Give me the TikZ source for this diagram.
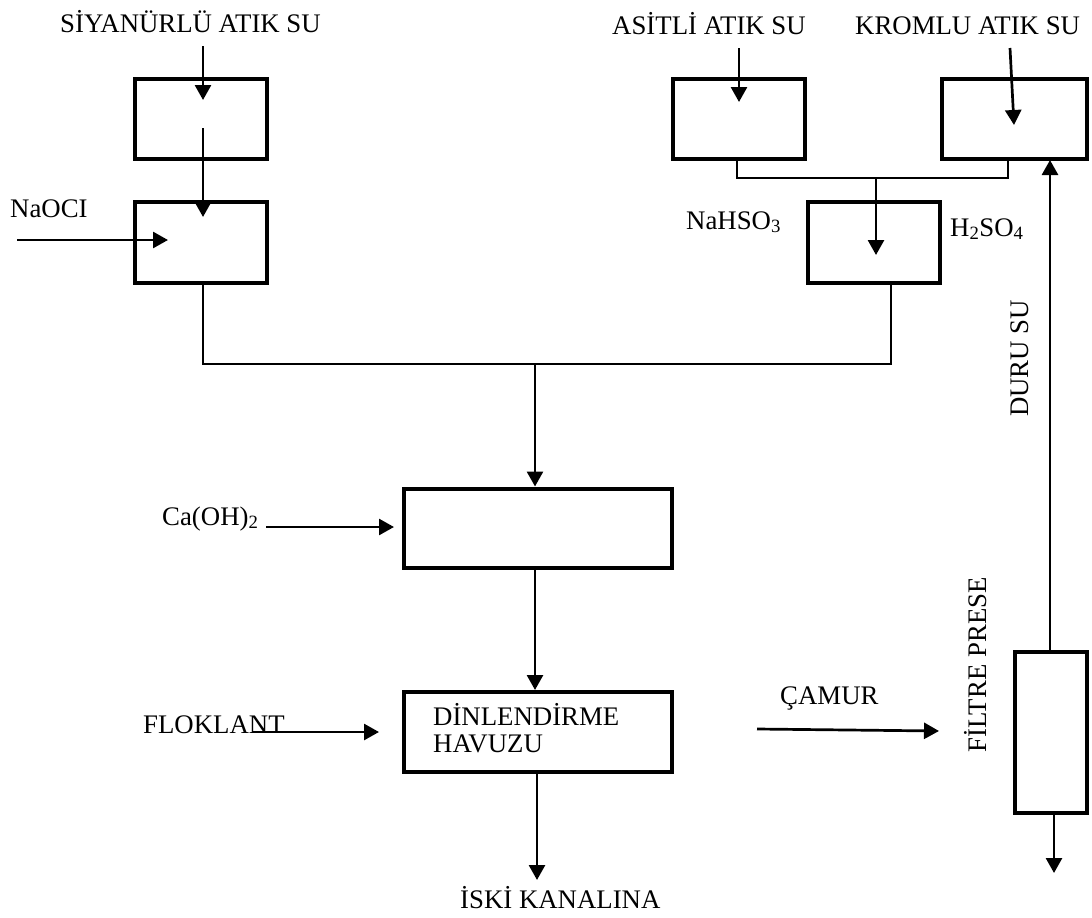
\documentclass[tikz,border=0pt]{standalone}
\usepackage{fontspec}
\setmainfont{Liberation Serif}
\usetikzlibrary{arrows.meta}
\begin{document}
\begin{tikzpicture}[x=1pt,y=-1pt,
  box/.style={draw,line width=4pt,inner sep=0pt},
  lbl/.style={font=\fontsize{26.8}{30}\selectfont,inner sep=0pt,anchor=base west},
  arr/.style={-{Triangle[length=15pt,width=16pt]},line width=2.7pt},
  ln/.style={line width=2pt}]
\useasboundingbox (0,0) rectangle (1092,918);
% boxes
\node[box,minimum width=132pt,minimum height=80pt] (A) at (201,119) {};
\node[box,minimum width=132pt,minimum height=81pt] (B) at (201,242) {};
\node[box,minimum width=132pt,minimum height=80pt] (D) at (738.5,119) {};
\node[box,minimum width=145pt,minimum height=80pt] (E) at (1014,119) {};
\node[box,minimum width=132pt,minimum height=81pt] (F) at (873.5,242) {};
\node[box,minimum width=268pt,minimum height=79pt] (C) at (537.5,528) {};
\node[box,minimum width=268pt,minimum height=80pt] (G) at (537.5,732) {};
\node[box,minimum width=72pt,minimum height=161pt] (H) at (1050.5,732) {};
% labels
\node[lbl] (tsiy) at (60,32) {SİYANÜRLÜ ATIK SU};
\node[lbl] (tasit) at (612,34) {ASİTLİ ATIK SU};
\node[lbl] (tkrom) at (855,34) {KROMLU ATIK SU};
\node[lbl] (tnaocl) at (10,217) {NaOCI};
\node[lbl] (tnahso) at (686,229) {NaHSO\textsubscript{3}};
\node[lbl] (th2so) at (950,236) {H\textsubscript{2}SO\textsubscript{4}};
\node[lbl] (tcaoh) at (162,525) {Ca(OH)\textsubscript{2}};
\node[lbl] (tflok) at (143,733) {FLOKLANT};
\node[lbl] (tdin) at (433,725) {DİNLENDİRME};
\node[lbl] (thav) at (433,752) {HAVUZU};
\node[lbl] (tcam) at (780,704) {ÇAMUR};
\node[lbl] (tiski) at (460,908) {İSKİ KANALINA};
\node[lbl,rotate=90] (tfil) at (986,753) {FİLTRE PRESE};
\node[lbl,rotate=90] (tduru) at (1028,417) {DURU SU};
% coordinates
\coordinate (s1) at (203,46);   \coordinate (s1e) at (203,100);
\coordinate (s2) at (203,128);  \coordinate (s2e) at (203,217);
\coordinate (n1) at (17,240);   \coordinate (n1e) at (168,240);
\coordinate (bout) at (203,283); \coordinate (fout) at (891,283);
\coordinate (j1) at (535,364);
\coordinate (a1) at (739,48);   \coordinate (a1e) at (739,102);
\coordinate (k1) at (1010,48);  \coordinate (k1e) at (1014,125);
\coordinate (dout) at (737,159); \coordinate (eout) at (1008,159);
\coordinate (j2) at (876,178);  \coordinate (j2e) at (876,255);
\coordinate (c1) at (266,527);  \coordinate (c1e) at (394,527);
\coordinate (cout) at (535,568);
\coordinate (f1) at (253,732);  \coordinate (f1e) at (379,732);
\coordinate (gout) at (537,773); \coordinate (ge) at (537,880);
\coordinate (m1) at (757,729);  \coordinate (m1e) at (939,731);
\coordinate (hin) at (1050,651); \coordinate (ein) at (1050,160);
\coordinate (hout) at (1054,813); \coordinate (he) at (1054,873);
% connectors
\draw[arr] (s1) -- (s1e);
\draw[arr] (s2) -- (s2e);
\draw[arr] (n1) -- (n1e);
\draw[ln] (bout) |- (j1) -| (fout);
\draw[arr] (j1) -- (j1 |- C.north);
\draw[arr] (a1) -- (a1e);
\draw[arr] (k1) -- (k1e);
\draw[ln] (dout) |- (j2) -| (eout);
\draw[arr] (j2) -- (j2e);
\draw[arr] (c1) -- (c1e);
\draw[arr] (cout) -- (cout |- G.north);
\draw[arr] (f1) -- (f1e);
\draw[arr] (gout) -- (ge);
\draw[arr] (m1) -- (m1e);
\draw[arr] (hin) -- (ein);
\draw[arr] (hout) -- (he);
\end{tikzpicture}
\end{document}
